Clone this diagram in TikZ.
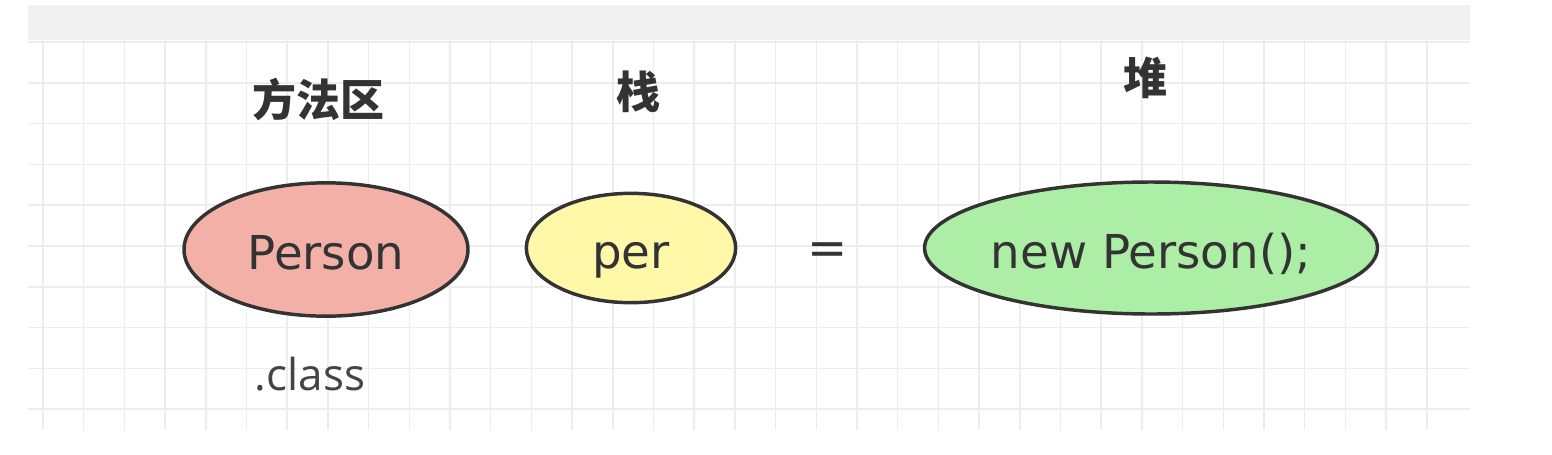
\documentclass[tikz,border=0pt]{standalone}
\usepackage{fontspec}
\setmainfont{DejaVu Sans}
\newfontfamily\cjkfont{Noto Sans CJK SC}
\newfontfamily\classfont{Open Sans}
\usetikzlibrary{shapes.geometric}
\definecolor{bandgrey}{HTML}{F1F1F1}
\definecolor{gridgrey}{HTML}{EDEDED}
\definecolor{inkdark}{HTML}{333333}
\definecolor{classgrey}{HTML}{444444}
\definecolor{fillred}{HTML}{F3B0A6}
\definecolor{fillyellow}{HTML}{FFF8A8}
\definecolor{fillgreen}{HTML}{ADEEA6}
\tikzset{
  gridline/.style={draw=gridgrey, line width=1.1pt},
  blob/.style={ellipse, draw=inkdark, line width=2.6pt, inner sep=0pt,
    text=inkdark, font=\fontsize{35}{42}\selectfont,
    text height=30pt, text depth=0pt},
  title/.style={text=inkdark, font=\cjkfont\bfseries\fontsize{33}{40}\selectfont, inner sep=0pt},
  note/.style={text=classgrey, font=\classfont\fontsize{33}{40}\selectfont, inner sep=0pt},
  eqsign/.style={text=inkdark, font=\fontsize{36}{42}\selectfont, inner sep=0pt}
}
\begin{document}
\begin{tikzpicture}[x=0.75pt,y=-0.75pt]
\useasboundingbox (0,0) rectangle (1552,454);
\fill[white] (0,0) rectangle (1552,454);
\fill[bandgrey] (28,5) rectangle (1470,40);
\foreach \i in {0,...,34} \draw[gridline] ({43+40.7*\i},40) -- ({43+40.7*\i},430);
\foreach \j in {0,...,9} \draw[gridline] (28,{42+40.8*\j}) -- (1470,{42+40.8*\j});

\node[blob, fill=fillred, minimum width=213pt, minimum height=100pt] (person) at (326,249.5) {Person};
\node[blob, fill=fillyellow, minimum width=157pt, minimum height=82pt] (per) at (631,248) {per};
\node[blob, fill=fillgreen, minimum width=333pt, minimum height=99pt] (newp) at (1151,248) {new Person();};
\node[eqsign] (eq) at (828,254) {=};

\node[title] (mth) at (318,100) {方法区};
\node[title] (stk) at (638,92) {栈};
\node[title] (hp) at (1145,78) {堆};
\node[note, anchor=base] (cls) at (310,390) {.class};
\end{tikzpicture}
\end{document}
